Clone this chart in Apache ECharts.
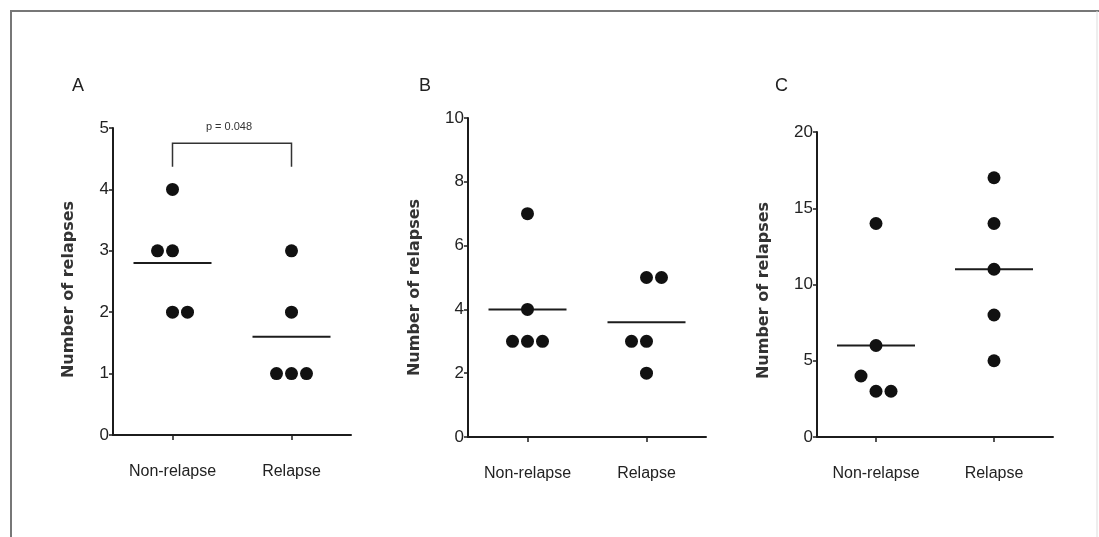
<!DOCTYPE html>
<html>
<head>
<meta charset="utf-8">
<script src="https://cdn.jsdelivr.net/npm/echarts@6/dist/echarts.min.js"></script>
<style>
  html, body { margin: 0; padding: 0; background: #fff; }
  #main { width: 1099px; height: 537px; }
</style>
</head>
<body>
<div id="main"></div>
<script>
// groups on the x axis
const categories = ["Non-relapse", "Relapse"];

// panel A: relapse counts per patient, slot = place in a row of tied dots (-1 left, 0 centre, 1 right)
const aNonRelapse = [4, 3, 3, 2, 2];
const aNonRelapseSlot = [0, -1, 0, 0, 1];
const aRelapse = [3, 2, 1, 1, 1];
const aRelapseSlot = [0, 0, -1, 0, 1];
const aPValue = "p = 0.048";

// panel B
const bNonRelapse = [7, 4, 3, 3, 3];
const bNonRelapseSlot = [0, 0, -1, 0, 1];
const bRelapse = [5, 5, 3, 3, 2];
const bRelapseSlot = [0, 1, -1, 0, 0];

// panel C
const cNonRelapse = [14, 6, 4, 3, 3];
const cNonRelapseSlot = [0, 0, -1, 0, 1];
const cRelapse = [17, 14, 11, 8, 5];
const cRelapseSlot = [0, 0, 0, 0, 0];

// y axis ranges
const yMax = [5, 10, 20];
const yStep = [1, 2, 5];

const panelLetters = ["A", "B", "C"];
const yTitle = "Number of relapses";

const labelFont = "'Liberation Sans', Arial, sans-serif";
const ink = "#1c1c1c";

function mean(arr) {
  return arr.reduce((s, v) => s + v, 0) / arr.length;
}

function dots(cat, values, slots) {
  return values.map((v, i) => ({
    value: [cat, v],
    symbolOffset: [slots[i] * 15, 0],
  }));
}

const grids = [
  { left: 113, right: 748, top: 128, bottom: 102 },
  { left: 468, right: 393, top: 118, bottom: 100 },
  { left: 817, right: 46, top: 132, bottom: 100 },
];
const nameGaps = [36, 45, 45];
// y titles sit a little below the middle of each axis
const nameShift = [16, 20, 12];

const panels = [
  [aNonRelapse, aNonRelapseSlot, aRelapse, aRelapseSlot],
  [bNonRelapse, bNonRelapseSlot, bRelapse, bRelapseSlot],
  [cNonRelapse, cNonRelapseSlot, cRelapse, cRelapseSlot],
];

const xAxes = [];
const yAxes = [];
const series = [];

panels.forEach((p, k) => {
  xAxes.push({
    type: "category",
    gridIndex: k,
    data: categories,
    boundaryGap: true,
    axisLine: { lineStyle: { color: ink, width: 2 } },
    axisTick: { show: true, interval: 0, alignWithLabel: true, length: 5, lineStyle: { color: ink, width: 1.5 } },
    axisLabel: { interval: 0, color: "#222", fontFamily: labelFont, fontSize: 16, margin: 29 },
    splitLine: { show: false },
  });
  yAxes.push({
    type: "value",
    gridIndex: k,
    min: 0,
    max: yMax[k],
    interval: yStep[k],
    name: yTitle,
    nameLocation: "middle",
    nameGap: nameGaps[k],
    nameTextStyle: {
      color: "#333",
      fontFamily: "'DejaVu Sans', sans-serif",
      fontSize: 16,
      fontWeight: "bold",
      padding: [0, nameShift[k], 0, 0],
    },
    axisLine: { show: true, lineStyle: { color: ink, width: 2 } },
    axisTick: { show: true, length: 4, lineStyle: { color: ink, width: 1.5 } },
    axisLabel: { color: "#222", fontFamily: labelFont, fontSize: 17, margin: 4 },
    splitLine: { show: false },
  });
  series.push({
    type: "scatter",
    xAxisIndex: k,
    yAxisIndex: k,
    symbolSize: 13,
    itemStyle: { color: "#111", opacity: 1 },
    data: dots(0, p[0], p[1]).concat(dots(1, p[2], p[3])),
    z: 3,
  });
  series.push({
    type: "custom",
    xAxisIndex: k,
    yAxisIndex: k,
    data: [[0, mean(p[0])], [1, mean(p[2])]],
    renderItem: function (params, api) {
      const c = api.coord([api.value(0), api.value(1)]);
      return {
        type: "line",
        shape: { x1: c[0] - 39, y1: c[1], x2: c[0] + 39, y2: c[1] },
        style: { stroke: ink, lineWidth: 2 },
      };
    },
    z: 2,
  });
});

// significance bracket on panel A
series.push({
  type: "custom",
  xAxisIndex: 0,
  yAxisIndex: 0,
  clip: false,
  data: [[0, 1]],
  renderItem: function (params, api) {
    const l = api.coord([0, 4.75]);
    const r = api.coord([1, 4.75]);
    const foot = api.coord([0, 4.37]);
    return {
      type: "group",
      children: [
        {
          type: "polyline",
          shape: { points: [[l[0], foot[1]], l, r, [r[0], foot[1]]] },
          style: { stroke: "#333", lineWidth: 1.5, fill: null },
        },
        {
          type: "text",
          style: {
            text: aPValue,
            x: (l[0] + r[0]) / 2 - 3,
            y: l[1] - 16,
            align: "center",
            verticalAlign: "middle",
            fill: "#333",
            font: "11px " + labelFont,
          },
        },
      ],
    };
  },
});

const chart = echarts.init(document.getElementById("main"));
chart.setOption({
  animation: false,
  backgroundColor: "#fff",
  title: panelLetters.map((t, i) => ({
    text: t,
    left: [67, 414, 770][i],
    top: 72,
    textStyle: { color: "#222", fontSize: 18, fontWeight: "normal", fontFamily: "'Liberation Sans', Arial, sans-serif" },
  })),
  grid: grids,
  xAxis: xAxes,
  yAxis: yAxes,
  series: series,
  graphic: [
    { type: "line", shape: { x1: 11, y1: 10, x2: 11, y2: 537 }, style: { stroke: "#777", lineWidth: 2 } },
    { type: "line", shape: { x1: 11, y1: 11, x2: 1099, y2: 11 }, style: { stroke: "#777", lineWidth: 2 } },
    { type: "line", shape: { x1: 1097, y1: 11, x2: 1097, y2: 537 }, style: { stroke: "#ddd", lineWidth: 1 } },
  ],
});
</script>
</body>
</html>
